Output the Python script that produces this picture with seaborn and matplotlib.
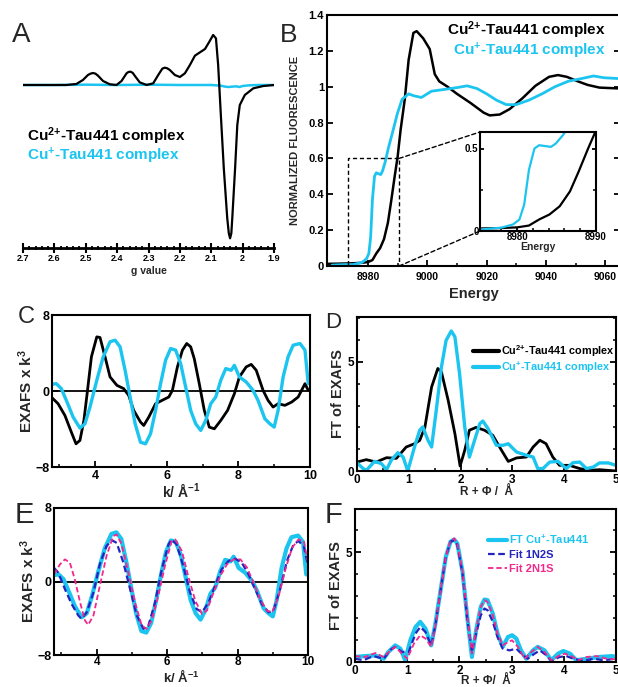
import numpy as np
import pandas as pd
import matplotlib
matplotlib.use("Agg")
import matplotlib.pyplot as plt
from matplotlib.patches import Rectangle, ConnectionPatch
from matplotlib.ticker import MultipleLocator, FixedLocator, FuncFormatter
import seaborn as sns

# ---------------- data ----------------
# A: X-band EPR, intensity (arb. units) vs g value
epr_g = [2.70, 2.562, 2.53, 2.509, 2.493, 2.485, 2.477, 2.469, 2.461, 2.445, 2.423, 2.402,
         2.386, 2.37, 2.364, 2.357, 2.350, 2.344, 2.328, 2.306, 2.285, 2.269, 2.256, 2.248,
         2.240, 2.232, 2.216, 2.2, 2.184, 2.168, 2.152, 2.136, 2.12, 2.106, 2.094, 2.085,
         2.078, 2.07, 2.06, 2.049, 2.044, 2.040, 2.036, 2.033, 2.024, 2.017, 2.009, 1.993,
         1.966, 1.934, 1.9]
epr_cu2 = [0.0, 0.0, 0.03, 0.15, 0.30, 0.34, 0.36, 0.34, 0.28, 0.12, 0.02, 0.0,
           0.12, 0.35, 0.39, 0.40, 0.36, 0.28, 0.08, 0.0, 0.05, 0.30, 0.49, 0.52,
           0.50, 0.45, 0.30, 0.24, 0.35, 0.60, 0.88, 0.98, 1.08, 1.30, 1.50, 1.40,
           0.60, -0.80, -2.50, -4.00, -4.45, -4.60, -4.45, -4.00, -2.50, -1.20, -0.60, -0.30,
           -0.10, -0.03, 0.0]
epr_g_cu1 = [2.70, 2.60, 2.50, 2.40, 2.30, 2.20, 2.10, 2.07, 2.055, 2.045, 2.035, 2.02,
             2.01, 2.0, 1.98, 1.95, 1.90]
epr_cu1 = [0.0, 0.0, 0.01, 0.0, 0.01, 0.0, 0.0, -0.02, -0.05, -0.06, -0.05, -0.04,
           -0.06, -0.03, -0.01, 0.0, 0.0]

# B: Cu K-edge XANES, normalized fluorescence vs energy (eV)
xanes_e_cu2 = [8966.2, 8970, 8975, 8978, 8980, 8981.5, 8982.8, 8984.1, 8985.4, 8986.7,
               8987.8, 8989.0, 8990.0, 8991.0, 8992.4, 8993.7, 8995.3, 8996.4, 8998.6,
               9000.8, 9002.5, 9004, 9006.8, 9010, 9014.5, 9019, 9021, 9024.4, 9027.7,
               9032, 9036.4, 9041, 9044, 9047, 9050.7, 9054, 9058, 9065.0]
xanes_cu2 = [0.012, 0.013, 0.015, 0.018, 0.022, 0.033, 0.07, 0.10, 0.15, 0.24,
             0.36, 0.50, 0.61, 0.76, 0.93, 1.15, 1.30, 1.31, 1.27,
             1.21, 1.07, 1.03, 1.00, 0.96, 0.91, 0.855, 0.84, 0.845, 0.875,
             0.935, 1.005, 1.055, 1.065, 1.055, 1.03, 1.01, 0.995, 0.99]
xanes_e_cu1 = [8967.9, 8972, 8975, 8978, 8979.5, 8980.3, 8980.9, 8981.5, 8982.2, 8982.8,
               8983.5, 8984.3, 8984.9, 8985.8, 8986.9, 8988.2, 8989.9, 8991.5, 8993.7,
               8995.3, 8998, 9001.4, 9005.8, 9010, 9013.4, 9016.7, 9020, 9023.3, 9026.6,
               9029.9, 9034.2, 9038.6, 9043, 9047.4, 9051.8, 9056, 9059.5, 9065.0]
xanes_cu1 = [0.005, 0.008, 0.008, 0.02, 0.04, 0.07, 0.16, 0.37, 0.50, 0.52,
             0.515, 0.51, 0.53, 0.58, 0.66, 0.74, 0.85, 0.93, 0.96,
             0.95, 0.94, 0.975, 0.985, 0.995, 1.005, 0.99, 0.96, 0.925, 0.90,
             0.90, 0.925, 0.96, 1.0, 1.03, 1.045, 1.06, 1.05, 1.045]

# C: k^3-weighted EXAFS
k_cu2 = [2.78, 2.97, 3.16, 3.34, 3.47, 3.58, 3.69, 3.78, 3.90, 4.05, 4.14, 4.28, 4.42,
         4.61, 4.80, 4.94, 5.08, 5.27, 5.36, 5.50, 5.69, 5.87, 6.06, 6.16, 6.30, 6.44,
         6.56, 6.67, 6.77, 6.91, 7.05, 7.19, 7.33, 7.51, 7.70, 7.89, 8.03, 8.22, 8.36,
         8.50, 8.69, 8.83, 8.97, 9.11, 9.30, 9.49, 9.67, 9.86, 9.95]
exafs_cu2 = [-0.63, -1.34, -2.57, -4.33, -5.56, -5.2, -3.1, -0.28, 3.6, 5.7, 5.63, 3.6, 1.48,
             0.6, 0.25, -0.46, -2.04, -3.27, -3.63, -2.75, -1.34, -0.99, -0.63, 0.07, 2.54, 4.3,
             5.0, 4.65, 3.4, 0.77, -2.04, -3.8, -3.98, -3.1, -2.04, -0.28, 1.48, 2.54, 2.8,
             2.18, 0.07, -0.99, -1.69, -1.34, -1.51, -1.16, -0.63, 0.77, 0.07]
k_cu1 = [2.78, 2.92, 3.06, 3.20, 3.39, 3.58, 3.72, 3.86, 4.05, 4.23, 4.42, 4.56, 4.70,
         4.84, 4.98, 5.12, 5.27, 5.41, 5.55, 5.69, 5.83, 5.97, 6.11, 6.25, 6.39, 6.53,
         6.67, 6.81, 6.95, 7.09, 7.23, 7.37, 7.51, 7.65, 7.80, 7.89, 8.03, 8.22, 8.41,
         8.55, 8.74, 8.88, 9.00, 9.11, 9.25, 9.39, 9.53, 9.72, 9.86, 9.95]
exafs_cu1 = [0.7, 0.77, 0.25, -0.99, -2.75, -3.9, -3.45, -1.69, 1.13, 3.6, 5.18, 5.35, 4.65,
             2.18, -0.63, -3.45, -5.39, -5.56, -4.5, -2.04, 0.77, 3.24, 4.47, 4.3, 2.89, 0.42,
             -2.04, -3.45, -4.15, -3.1, -1.34, -0.63, 1.13, 2.36, 2.18, 2.7, 1.48, 0.95, 0.07,
             -0.99, -2.92, -3.45, -3.8, -2.04, 1.48, 3.6, 4.82, 5.0, 4.3, 0.77]

# D: Fourier transform magnitude vs R + phi
r_cu2 = [0.0, 0.18, 0.37, 0.57, 0.76, 0.95, 1.11, 1.21, 1.31, 1.44, 1.56, 1.63, 1.76,
         1.89, 1.99, 2.08, 2.17, 2.30, 2.46, 2.62, 2.79, 2.92, 3.08, 3.27, 3.40, 3.53,
         3.65, 3.78, 3.91, 4.10, 4.30, 4.49, 4.68, 5.0]
ft_cu2 = [0.41, 0.52, 0.41, 0.61, 0.58, 1.1, 1.25, 1.4, 2.0, 3.85, 4.7, 4.54, 3.24,
          1.71, 0.23, 0.95, 1.87, 2.0, 1.87, 1.64, 0.95, 0.44, 0.6, 0.64, 1.1, 1.41,
          1.25, 0.64, 0.26, 0.26, 0.11, 0.03, 0.06, 0.0]
r_cu1 = [0.0, 0.12, 0.18, 0.34, 0.47, 0.57, 0.66, 0.79, 0.89, 0.98, 1.11, 1.21, 1.27,
         1.37, 1.44, 1.53, 1.63, 1.72, 1.82, 1.89, 1.98, 2.08, 2.17, 2.27, 2.37, 2.43,
         2.53, 2.69, 2.82, 2.92, 3.08, 3.27, 3.40, 3.49, 3.59, 3.72, 3.88, 4.04, 4.17,
         4.30, 4.43, 4.56, 4.68, 4.85, 5.0]
ft_cu1 = [0.37, 0.11, 0.03, 0.44, 0.34, 0.06, 0.49, 0.84, 0.64, 0.0, 1.1, 1.87, 2.02,
          1.41, 1.1, 2.78, 4.77, 5.99, 6.42, 6.15, 4.46, 2.02, 0.64, 1.41, 2.17, 2.29,
          1.94, 1.18, 1.18, 1.25, 0.87, 0.72, 0.64, 0.11, 0.11, 0.41, 0.44, 0.11, 0.38,
          0.41, 0.11, 0.18, 0.37, 0.37, 0.26]

# E: Cu(I) EXAFS with two fits
k_fit = [2.79, 2.91, 3.10, 3.29, 3.48, 3.57, 3.72, 3.91, 4.09, 4.28, 4.43, 4.57, 4.76,
         4.95, 5.14, 5.33, 5.47, 5.66, 5.85, 6.04, 6.13, 6.27, 6.46, 6.65, 6.84, 6.99,
         7.18, 7.36, 7.55, 7.74, 7.93, 8.12, 8.31, 8.50, 8.69, 8.88, 9.02, 9.21, 9.40,
         9.59, 9.73, 9.88, 10.0]
fit_1n2s = [1.5, 0.97, -0.83, -2.45, -3.7, -4.07, -3.35, -1.19, 1.87, 3.86, 4.5, 4.2, 2.05,
            -0.83, -3.7, -5.15, -4.8, -2.27, 1.33, 4.04, 4.58, 4.04, 1.69, -1.19, -2.99, -3.35,
            -2.27, -0.47, 1.33, 2.23, 2.49, 2.05, 0.79, -0.83, -2.45, -3.35, -3.17, -0.83, 2.23,
            4.04, 4.4, 3.86, 1.69]
k_fit2 = [2.79, 2.96, 3.10, 3.24, 3.38, 3.53, 3.67, 3.76, 3.91, 4.09, 4.28, 4.47, 4.57,
          4.71, 4.90, 5.09, 5.28, 5.42, 5.56, 5.75, 5.94, 6.13, 6.23, 6.42, 6.61, 6.80,
          6.99, 7.13, 7.32, 7.51, 7.70, 7.89, 8.08, 8.27, 8.45, 8.64, 8.83, 8.98, 9.17,
          9.36, 9.55, 9.73, 9.88, 10.0]
fit_2n1s = [0.79, 1.87, 2.41, 2.05, 0.25, -2.27, -4.25, -4.72, -3.7, -0.47, 2.77, 4.94, 5.12,
            4.04, 0.97, -2.27, -4.79, -5.15, -4.25, -1.55, 1.69, 4.4, 4.58, 3.32, 0.43, -2.09,
            -3.53, -3.17, -1.19, 0.61, 1.87, 2.41, 2.41, 1.51, -0.11, -1.91, -3.17, -3.35, -1.55,
            1.33, 3.68, 4.58, 4.4, 2.05]

# F: Fourier transforms of Cu(I) data and fits
r_ft = [0.0, 0.19, 0.39, 0.55, 0.64, 0.77, 0.87, 0.96, 1.06, 1.16, 1.25, 1.35, 1.46,
        1.54, 1.64, 1.74, 1.83, 1.90, 1.96, 2.06, 2.15, 2.24, 2.32, 2.41, 2.48, 2.54,
        2.64, 2.73, 2.83, 2.93, 3.01, 3.09, 3.18, 3.28, 3.41, 3.50, 3.63, 3.76, 3.89,
        3.99, 4.12, 4.24, 4.44, 4.69, 4.92, 5.0]
ft_data = [0.23, 0.27, 0.30, 0.15, 0.46, 0.76, 0.61, 0.08, 0.99, 1.6, 1.83, 1.52, 0.76,
           1.75, 3.28, 4.8, 5.49, 5.59, 5.41, 4.12, 2.06, 0.23, 1.45, 2.52, 2.85, 2.82,
           2.21, 1.3, 0.69, 1.14, 1.22, 1.07, 0.53, 0.15, 0.53, 0.69, 0.53, 0.08, 0.38,
           0.5, 0.38, 0.08, 0.15, 0.23, 0.27, 0.23]
r_ft1 = [0.0, 0.16, 0.35, 0.55, 0.68, 0.77, 0.90, 1.03, 1.16, 1.25, 1.35, 1.46, 1.54,
         1.64, 1.74, 1.83, 1.90, 1.96, 2.06, 2.15, 2.24, 2.32, 2.41, 2.48, 2.54, 2.64,
         2.73, 2.83, 2.96, 3.09, 3.22, 3.31, 3.44, 3.54, 3.67, 3.76, 3.92, 4.05, 4.18,
         4.37, 4.57, 4.76, 5.0]
ft_1n2s = [0.15, 0.08, 0.27, 0.15, 0.56, 0.69, 0.46, 0.46, 1.3, 1.6, 1.37, 0.76, 1.68,
           3.28, 4.8, 5.49, 5.56, 5.34, 4.04, 1.98, 0.46, 1.3, 2.13, 2.44, 2.36, 1.83,
           1.14, 0.61, 0.53, 0.61, 0.3, 0.15, 0.38, 0.53, 0.3, 0.05, 0.23, 0.27, 0.15,
           0.05, 0.15, 0.08, 0.15]
r_ft2 = [0.0, 0.19, 0.39, 0.55, 0.68, 0.77, 0.90, 1.00, 1.13, 1.25, 1.35, 1.46, 1.54,
         1.64, 1.74, 1.83, 1.90, 1.96, 2.06, 2.15, 2.24, 2.32, 2.41, 2.48, 2.54, 2.64,
         2.73, 2.83, 2.93, 3.01, 3.12, 3.25, 3.38, 3.50, 3.63, 3.76, 3.92, 4.02, 4.15,
         4.28, 4.44, 4.63, 4.82, 5.0]
ft_2n1s = [0.27, 0.23, 0.41, 0.23, 0.53, 0.69, 0.38, 0.15, 0.84, 1.22, 1.07, 0.69, 1.6,
           3.28, 4.8, 5.53, 5.64, 5.41, 4.12, 2.13, 0.38, 1.45, 2.52, 2.82, 2.74, 2.13,
           1.3, 0.76, 0.91, 0.99, 0.69, 0.15, 0.46, 0.69, 0.46, 0.08, 0.3, 0.38, 0.26,
           0.08, 0.23, 0.27, 0.15, 0.12]

# ---------------- style ----------------
sns.set_theme(style="ticks")
plt.rcParams.update({
    "font.family": ["Liberation Sans", "DejaVu Sans"],
    "font.weight": "bold",
    "axes.labelweight": "bold",
    "mathtext.fontset": "custom",
    "mathtext.rm": "Liberation Sans:bold",
    "mathtext.bf": "Liberation Sans:bold",
    "mathtext.it": "Liberation Sans:bold",
    "mathtext.default": "bf",
    "axes.linewidth": 1.5,
    "xtick.direction": "in",
    "ytick.direction": "in",
    "axes.edgecolor": "black",
    "xtick.color": "black",
    "ytick.color": "black",
})

CYAN = "#1cc4f0"
BLUE = "#2424c0"
PINK = "#f2288c"
CU2 = "Cu$^{2{+}}$-Tau441 complex"
CU1 = "Cu$^{{+}}$-Tau441 complex"

W, H = 618, 687
fig = plt.figure(figsize=(W / 100, H / 100), dpi=100)


def box(left, top, right, bottom):
    return [left / W, 1 - bottom / H, (right - left) / W, (bottom - top) / H]


def panel_letter(x, y, s, size):
    fig.text(x / W, 1 - y / H, s, ha="center", va="baseline",
             fontsize=size, fontweight="normal", family="Liberation Sans")


def style_ticks(ax, size=8.5):
    ax.tick_params(which="major", length=4, width=1.3, labelsize=size, pad=2)
    ax.tick_params(which="minor", length=2.5, width=1.1)
    for lab in ax.get_xticklabels() + ax.get_yticklabels():
        lab.set_fontweight("bold")


# ---------------- A: EPR ----------------
axA = fig.add_axes(box(23, 20, 274, 248))
sns.lineplot(x=epr_g_cu1, y=epr_cu1, ax=axA, color=CYAN, lw=1.8, sort=False)
sns.lineplot(x=epr_g, y=epr_cu2, ax=axA, color="black", lw=1.6, sort=False)
axA.set_xlim(2.7, 1.9)
axA.set_ylim(-4.89, 1.95)
for s in ("left", "top", "right"):
    axA.spines[s].set_visible(False)
axA.spines["bottom"].set_linewidth(2.0)
axA.set_yticks([])
axA.xaxis.set_major_locator(MultipleLocator(0.1))
axA.xaxis.set_minor_locator(MultipleLocator(0.02))
axA.xaxis.set_major_formatter(FuncFormatter(lambda v, p: f"{v:.1f}".rstrip("0").rstrip(".")))
axA.tick_params(axis="x", which="major", direction="inout", length=7, width=1.5,
                labelsize=6.5, pad=1)
axA.tick_params(axis="x", which="minor", direction="inout", length=3, width=1.3)
axA.set_xlabel("g value", fontsize=7.5, labelpad=2)
fig.text(27 / W, 1 - 141 / H, CU2, color="black", fontsize=11, fontweight="bold")
fig.text(27 / W, 1 - 160 / H, CU1, color=CYAN, fontsize=11, fontweight="bold")
panel_letter(21.5, 42, "A", 20)

# ---------------- B: XANES ----------------
axB = fig.add_axes(box(327, 15, 620, 266))
sns.lineplot(x=xanes_e_cu2, y=xanes_cu2, ax=axB, color="black", lw=1.8)
sns.lineplot(x=xanes_e_cu1, y=xanes_cu1, ax=axB, color=CYAN, lw=2.0)
axB.set_xlim(8966.2, 9064.9)
axB.set_ylim(0, 1.4)
axB.xaxis.set_major_locator(FixedLocator([8980, 9000, 9020, 9040, 9060]))
axB.xaxis.set_minor_locator(MultipleLocator(10))
axB.yaxis.set_major_locator(MultipleLocator(0.2))
axB.yaxis.set_major_formatter(FuncFormatter(lambda v, p: f"{v:.1f}".rstrip("0").rstrip(".")))
axB.tick_params(right=True, which="both")
style_ticks(axB, 8)
axB.tick_params(axis="x", labelsize=7.5, pad=4)
axB.set_xlabel("Energy", fontsize=10.5, labelpad=4)
axB.set_ylabel("NORMALIZED FLUORESCENCE", fontsize=8, labelpad=6)
fig.text(606 / W, 1 - 35 / H, CU2, ha="right", color="black", fontsize=11, fontweight="bold")
fig.text(606 / W, 1 - 55 / H, CU1, ha="right", color=CYAN, fontsize=11, fontweight="bold")
zoom_box = Rectangle((8973.4, 0.0), 8990.5 - 8973.4, 0.6, fill=False, ls=(0, (3, 2)),
                     lw=1.0, ec="black", zorder=3)
axB.add_patch(zoom_box)
panel_letter(288.5, 42, "B", 19)

axI = fig.add_axes(box(480, 132, 596, 231))
sns.lineplot(x=xanes_e_cu2, y=xanes_cu2, ax=axI, color="black", lw=1.6)
sns.lineplot(x=xanes_e_cu1, y=xanes_cu1, ax=axI, color=CYAN, lw=1.6)
axI.set_xlim(8975.3, 8990)
axI.set_ylim(0, 0.6)
axI.xaxis.set_major_locator(FixedLocator([8980, 8990]))
axI.xaxis.set_minor_locator(MultipleLocator(2))
axI.yaxis.set_major_locator(FixedLocator([0, 0.5]))
axI.yaxis.set_minor_locator(MultipleLocator(0.25))
axI.yaxis.set_major_formatter(FuncFormatter(lambda v, p: "0" if v == 0 else f"{v:g}"))
axI.tick_params(right=True, top=False, which="both")
style_ticks(axI, 7)
axI.tick_params(which="major", length=3, pad=1)
axI.tick_params(which="minor", length=2)
axI.set_xlabel("Energy", fontsize=7.5, labelpad=0)
for ya, yb in ((0.6, 1.0), (0.0, 0.0)):
    con = ConnectionPatch(xyA=(8990.5, ya), coordsA=axB.transData,
                          xyB=(0.0, yb), coordsB=axI.transAxes,
                          ls=(0, (3, 2)), lw=1.0, color="black")
    fig.add_artist(con)

# ---------------- C: EXAFS ----------------
axC = fig.add_axes(box(52, 315, 310, 467))
axC.axhline(0, color="black", lw=1.3)
sns.lineplot(x=k_cu2, y=exafs_cu2, ax=axC, color="black", lw=2.0)
sns.lineplot(x=k_cu1, y=exafs_cu1, ax=axC, color=CYAN, lw=2.4)
axC.set_xlim(2.8, 10)
axC.set_ylim(-8, 8)
axC.xaxis.set_major_locator(FixedLocator([4, 6, 8, 10]))
axC.xaxis.set_minor_locator(FixedLocator([3, 5, 7, 9]))
axC.yaxis.set_major_locator(FixedLocator([-8, 0, 8]))
style_ticks(axC, 9)
axC.set_xlabel("k/ Å$^{-1}$", fontsize=10, labelpad=0)
axC.set_ylabel("EXAFS x k$^{3}$", fontsize=11, labelpad=0)
panel_letter(26.5, 323, "C", 17)

# ---------------- D: FT ----------------
axD = fig.add_axes(box(357, 317, 616, 471))
sns.lineplot(x=r_cu2, y=ft_cu2, ax=axD, color="black", lw=2.0, label=CU2)
sns.lineplot(x=r_cu1, y=ft_cu1, ax=axD, color=CYAN, lw=2.4, label=CU1)
axD.set_xlim(0, 5)
axD.set_ylim(0, 7.06)
axD.xaxis.set_major_locator(MultipleLocator(1))
axD.xaxis.set_minor_locator(MultipleLocator(0.5))
axD.yaxis.set_major_locator(FixedLocator([0, 5]))
axD.yaxis.set_minor_locator(MultipleLocator(1))
axD.tick_params(right=True, which="both")
style_ticks(axD, 8.5)
axD.set_xlabel("R + Φ /  Å", fontsize=8.5, labelpad=0)
axD.set_ylabel("FT of EXAFS", fontsize=10.5, labelpad=2)
legD = axD.legend(loc="upper left", bbox_to_anchor=(473 / W, 1 - 343 / H),
                  bbox_transform=fig.transFigure, frameon=False, fontsize=7.8,
                  handlelength=2.4, handletextpad=0.2, labelspacing=0.1,
                  borderpad=0, borderaxespad=0, labelcolor="linecolor")
for t in legD.get_texts():
    t.set_fontweight("bold")
for ln in legD.get_lines():
    ln.set_linewidth(3.0)
panel_letter(333.5, 328, "D", 16)

# ---------------- E: EXAFS fits ----------------
axE = fig.add_axes(box(54, 508, 308, 655))
axE.axhline(0, color="black", lw=1.3)
sns.lineplot(x=k_cu1, y=exafs_cu1, ax=axE, color=CYAN, lw=3.0)
sns.lineplot(x=k_fit, y=fit_1n2s, ax=axE, color=BLUE, lw=1.6, linestyle=(0, (3, 1.6)))
sns.lineplot(x=k_fit2, y=fit_2n1s, ax=axE, color=PINK, lw=1.3, linestyle=(0, (3, 1.6)))
axE.set_xlim(2.79, 10)
axE.set_ylim(-8, 8)
axE.xaxis.set_major_locator(FixedLocator([4, 6, 8, 10]))
axE.xaxis.set_minor_locator(FixedLocator([3, 5, 7, 9]))
axE.yaxis.set_major_locator(FixedLocator([-8, 0, 8]))
style_ticks(axE, 9)
axE.tick_params(axis="x", labelsize=8.5, pad=1)
axE.set_xlabel("k/ Å$^{-1}$", fontsize=9.5, labelpad=0)
axE.set_ylabel("EXAFS x k$^{3}$", fontsize=11, labelpad=0)
panel_letter(24, 523, "E", 21)

# ---------------- F: FT fits ----------------
axF = fig.add_axes(box(355, 509, 616, 662))
sns.lineplot(x=r_ft, y=ft_data, ax=axF, color=CYAN, lw=3.0, label="FT Cu$^{{+}}$-Tau441")
sns.lineplot(x=r_ft1, y=ft_1n2s, ax=axF, color=BLUE, lw=1.6, linestyle=(0, (3, 1.6)),
             label="Fit 1N2S")
sns.lineplot(x=r_ft2, y=ft_2n1s, ax=axF, color=PINK, lw=1.3, linestyle=(0, (3, 1.6)),
             label="Fit 2N1S")
axF.set_xlim(0, 5)
axF.set_ylim(0, 6.98)
axF.xaxis.set_major_locator(MultipleLocator(1))
axF.xaxis.set_minor_locator(MultipleLocator(0.5))
axF.yaxis.set_major_locator(FixedLocator([0, 5]))
axF.yaxis.set_minor_locator(MultipleLocator(1))
axF.tick_params(right=True, which="both")
style_ticks(axF, 8.5)
axF.set_xlabel("R + Φ/  Å", fontsize=8.5, labelpad=-1)
axF.set_ylabel("FT of EXAFS", fontsize=10.5, labelpad=2)
legF = axF.legend(loc="upper left", bbox_to_anchor=(488 / W, 1 - 533 / H),
                  bbox_transform=fig.transFigure, frameon=False, fontsize=8,
                  handlelength=1.7, handletextpad=0.2, labelspacing=0.35,
                  borderpad=0, borderaxespad=0, labelcolor="linecolor")
for t in legF.get_texts():
    t.set_fontweight("bold")
panel_letter(333.5, 523, "F", 21)

fig.savefig("out.png", dpi=100)
